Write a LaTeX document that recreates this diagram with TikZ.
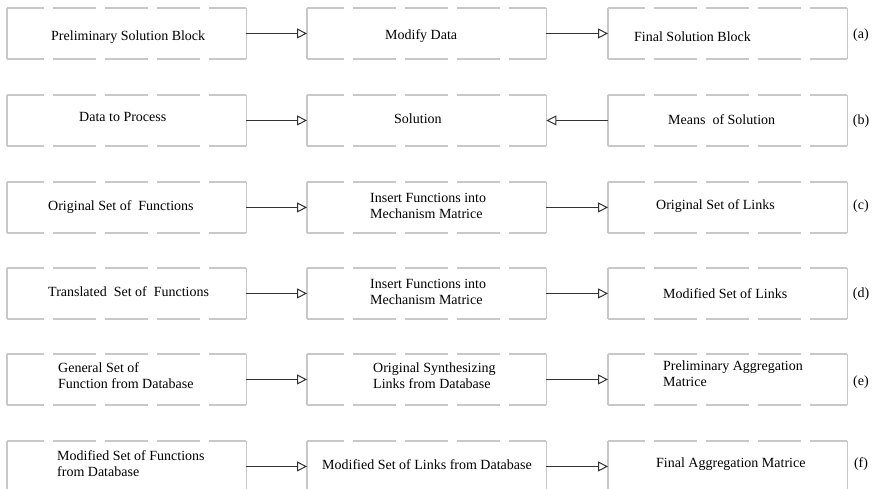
\documentclass[tikz,border=0pt]{standalone}
\usepackage{fontspec}
\setmainfont{Liberation Serif}
\usetikzlibrary{arrows.meta}
\definecolor{boxgray}{HTML}{C8C8C8}
\definecolor{linegray}{HTML}{333333}
\begin{document}
\begin{tikzpicture}[x=1pt,y=-1pt,
  blk/.style={rectangle, minimum width=239pt, minimum height=50.5pt, inner sep=0pt, anchor=north west, draw=none},
  txt/.style={anchor=west, inner sep=0pt, align=left, font=\fontsize{14}{16}\selectfont},
  lbl/.style={anchor=center, inner sep=0pt, font=\fontsize{14}{16}\selectfont},
  side/.style={draw=boxgray, line width=1.4pt},
  dashedge/.style={draw=boxgray, line width=1.4pt, dash pattern=on 37pt off 9pt on 43pt off 9pt on 43pt off 9pt on 43pt off 9pt on 37pt off 60pt},
  link/.style={draw=linegray, line width=1pt, -{Triangle[open, length=10pt, width=10pt, fill=white]}}
]
\useasboundingbox (0,0) rectangle (881,489);
% boxes
\foreach \r/\y in {a/8,b/95,c/182,d/268,e/354,f/441}{
  \node[blk] (\r1) at (7,\y) {};
  \node[blk] (\r2) at (307,\y) {};
  \node[blk] (\r3) at (608,\y) {};
}
\foreach \n in {a1,a2,a3,b1,b2,b3,c1,c2,c3,d1,d2,d3,e1,e2,e3,f1,f2,f3}{
  \draw[side] (\n.north west) -- (\n.south west);
  \draw[side] (\n.north east) -- (\n.south east);
  \draw[dashedge] (\n.north west) -- (\n.north east);
  \draw[dashedge] (\n.south west) -- (\n.south east);
}
% texts
\node[txt] (ta1) at (51,37) {Preliminary Solution Block};
\node[txt] (ta2) at (385,36) {Modify Data};
\node[txt] (ta3) at (634,37) {Final Solution Block};
\node[txt] (tb1) at (79,117) {Data to Process};
\node[txt] (tb2) at (394,119) {Solution};
\node[txt] (tb3) at (668,120) {Means~ of Solution};
\node[txt] (tc1) at (48,207) {Original Set of~ Functions};
\node[txt] (tc2) at (370,206) {Insert Functions into\\Mechanism Matrice};
\node[txt] (tc3) at (656,206) {Original Set of Links};
\node[txt] (td1) at (48,292) {Translated~ Set of~ Functions};
\node[txt] (td2) at (370,292) {Insert Functions into\\Mechanism Matrice};
\node[txt] (td3) at (663,294) {Modified Set of Links};
\node[txt] (te1) at (58,376) {General Set of\\Function from Database};
\node[txt] (te2) at (373,376) {Original Synthesizing\\Links from Database};
\node[txt] (te3) at (663,374) {Preliminary Aggregation\\Matrice};
\node[txt] (tf1) at (57,464) {Modified Set of Functions\\from Database};
\node[txt] (tf2) at (322,465) {Modified Set of Links from Database};
\node[txt] (tf3) at (656,464) {Final Aggregation Matrice};
% labels
\node[lbl] (la) at (861,35) {(a)};
\node[lbl] (lb) at (861,121) {(b)};
\node[lbl] (lc) at (861,206) {(c)};
\node[lbl] (ld) at (861,294) {(d)};
\node[lbl] (le) at (861,382) {(e)};
\node[lbl] (lf) at (861,464) {(f)};
% connectors
\draw[link] (a1.east) -- (a2.west);
\draw[link] (a2.east) -- (a3.west);
\draw[link] (b1.east) -- (b2.west);
\draw[link] (b3.west) -- (b2.east);
\draw[link] (c1.east) -- (c2.west);
\draw[link] (c2.east) -- (c3.west);
\draw[link] (d1.east) -- (d2.west);
\draw[link] (d2.east) -- (d3.west);
\draw[link] (e1.east) -- (e2.west);
\draw[link] (e2.east) -- (e3.west);
\draw[link] (f1.east) -- (f2.west);
\draw[link] (f2.east) -- (f3.west);
\end{tikzpicture}
\end{document}
